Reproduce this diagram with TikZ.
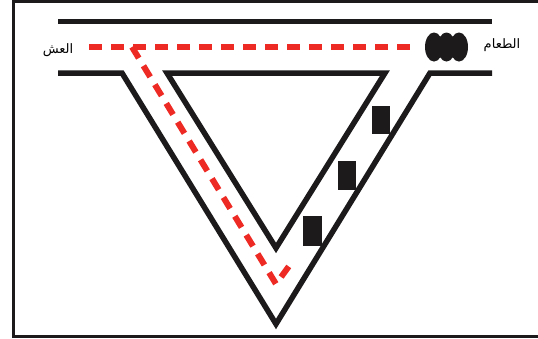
\documentclass[tikz,border=0pt]{standalone}
\usepackage{fontspec}
\newfontfamily\arabicfont[Script=Arabic]{DejaVu Sans}
\TeXXeTstate=1
\definecolor{rail}{HTML}{1C1A1B}
\definecolor{antred}{HTML}{EE2A24}
\begin{document}
\begin{tikzpicture}[x=1pt,y=-1pt,
  railline/.style={draw=rail,line width=5.5pt,miter limit=20},
  antpath/.style={draw=antred,line width=6pt,dash pattern=on 13pt off 9pt},
  frameline/.style={draw=rail,line width=3pt},
  car/.style={fill=rail,draw=rail,line width=0.5pt},
  label/.style={font=\arabicfont\fontsize{13}{15}\selectfont,text=black,inner sep=0pt}]
\useasboundingbox (0,0) rectangle (538,338);
% frame
\draw[frameline] (545,1.5) -- (13.5,1.5) -- (13.5,336.5) -- (545,336.5);
% rails
\draw[railline] (58,21.5) -- (492,21.5);
\draw[railline] (58,73) -- (122,73) -- (276,324) -- (430,73) -- (492,73);
\draw[railline] (167,73) -- (385,73) -- (276,248) -- cycle;
% ant path
\draw[antpath] (89,47) -- (418,47);
\draw[antpath] (132,47) -- (276,284) -- (292,262);
% food
\fill[rail] (434,47) ellipse (9 and 14.5);
\fill[rail] (446.5,47) ellipse (9 and 14.5);
\fill[rail] (459,47) ellipse (9 and 14.5);
% cars
\filldraw[car] (372,106) rectangle (389,133);
\filldraw[car] (338,161) rectangle (355,189);
\filldraw[car] (303,216) rectangle (321,245);
% labels
\node[label] (food) at (502,45) {\beginR الطعام\endR};
\node[label] (nest) at (58,50) {\beginR العش\endR};
\end{tikzpicture}
\end{document}
